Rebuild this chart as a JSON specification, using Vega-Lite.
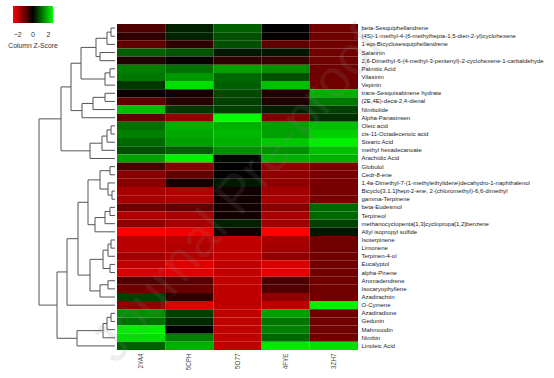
{
  "$schema": "https://vega.github.io/schema/vega-lite/v6.json",
  "width": 320,
  "height": 326,
  "autosize": "none",
  "padding": {"left": 38, "top": 24, "right": 196, "bottom": 28},
  "config": {"view": {"stroke": null}, "font": "Liberation Sans"},
  "resolve": {"scale": {"x": "independent", "y": "independent", "color": "independent"}, "axis": {"x": "independent", "y": "independent"}},
  "layer": [
    {
      "data": {"values": [
        {"compound": "beta-Sesquiphellandrene", "2YA4": -0.82, "5CPH": 0.33, "5O77": 0.98, "4FYE": 0.0, "3ZH7": -1.14},
        {"compound": "(4S)-1-methyl-4-(6-methylhepta-1,5-dien-2-yl)cyclohexene", "2YA4": -0.49, "5CPH": 0.37, "5O77": 0.82, "4FYE": -0.03, "3ZH7": -1.14},
        {"compound": "1-epi-Bicyclosesquiphellandrene", "2YA4": -0.98, "5CPH": -0.49, "5O77": 0.82, "4FYE": -0.98, "3ZH7": -1.14},
        {"compound": "Salannin", "2YA4": 0.98, "5CPH": 0.87, "5O77": 0.24, "4FYE": 0.24, "3ZH7": -1.14},
        {"compound": "2,6-Dimethyl-6-(4-methyl-3-pentenyl)-2-cyclohexene-1-carbaldehyde", "2YA4": -0.33, "5CPH": -0.08, "5O77": -0.49, "4FYE": -0.57, "3ZH7": -1.14},
        {"compound": "Palmitic Acid", "2YA4": 1.31, "5CPH": 1.14, "5O77": 1.63, "4FYE": 1.47, "3ZH7": -1.14},
        {"compound": "Vilasinin", "2YA4": 1.22, "5CPH": 1.55, "5O77": 1.06, "4FYE": 0.82, "3ZH7": -1.14},
        {"compound": "Vepinin", "2YA4": 0.57, "5CPH": 2.28, "5O77": 0.98, "4FYE": 1.96, "3ZH7": -1.14},
        {"compound": "trans-Sesquisabinene hydrate", "2YA4": -0.08, "5CPH": -0.16, "5O77": 0.73, "4FYE": -0.33, "3ZH7": 1.79},
        {"compound": "(2E,4E)-deca-2,4-dienal", "2YA4": -0.98, "5CPH": -0.41, "5O77": 0.65, "4FYE": -0.33, "3ZH7": 1.22},
        {"compound": "Nimbolide", "2YA4": 1.96, "5CPH": 0.57, "5O77": 0.65, "4FYE": 0.33, "3ZH7": 0.65},
        {"compound": "Alpha-Panasinsen", "2YA4": -0.98, "5CPH": -1.47, "5O77": 2.6, "4FYE": -1.31, "3ZH7": 0.49},
        {"compound": "Oleic acid", "2YA4": 1.14, "5CPH": 1.79, "5O77": 1.79, "4FYE": 1.63, "3ZH7": 1.96},
        {"compound": "cis-11-Octadecenoic acid", "2YA4": 1.31, "5CPH": 1.71, "5O77": 1.88, "4FYE": 1.63, "3ZH7": 2.12},
        {"compound": "Stearic Acid", "2YA4": 1.06, "5CPH": 1.63, "5O77": 1.79, "4FYE": 2.04, "3ZH7": 2.45},
        {"compound": "methyl hexadecanoate", "2YA4": 0.82, "5CPH": 0.98, "5O77": 1.47, "4FYE": 1.47, "3ZH7": 1.96},
        {"compound": "Arachidic Acid", "2YA4": 1.63, "5CPH": 2.45, "5O77": 0.08, "4FYE": 1.79, "3ZH7": 1.79},
        {"compound": "Globulol", "2YA4": -0.73, "5CPH": -1.39, "5O77": 0.0, "4FYE": -1.47, "3ZH7": -1.22},
        {"compound": "Cedr-8-ene", "2YA4": -1.39, "5CPH": -0.98, "5O77": 0.0, "4FYE": -1.47, "3ZH7": -1.22},
        {"compound": "1,4a-Dimethyl-7-(1-methylethylidene)decahydro-1-naphthalenol", "2YA4": -1.39, "5CPH": -0.24, "5O77": 0.24, "4FYE": -1.47, "3ZH7": -1.22},
        {"compound": "Bicyclo[3.1.1]hept-2-ene, 2-(chloromethyl)-6,6-dimethyl", "2YA4": -1.71, "5CPH": -1.79, "5O77": -0.16, "4FYE": -1.63, "3ZH7": -1.22},
        {"compound": "gamma-Terpinene", "2YA4": -1.71, "5CPH": -1.79, "5O77": -0.16, "4FYE": -1.71, "3ZH7": -1.22},
        {"compound": "beta-Eudesmol", "2YA4": -1.14, "5CPH": -0.98, "5O77": -0.16, "4FYE": -1.39, "3ZH7": 1.06},
        {"compound": "Terpineol", "2YA4": -1.79, "5CPH": -1.71, "5O77": -0.16, "4FYE": -1.71, "3ZH7": 1.06},
        {"compound": "methanocyclopenta[1,3]cyclopropa[1,2]benzene", "2YA4": -1.47, "5CPH": -1.71, "5O77": 0.33, "4FYE": -1.63, "3ZH7": 0.65},
        {"compound": "Allyl isopropyl sulfide", "2YA4": -2.6, "5CPH": -2.45, "5O77": -0.16, "4FYE": -2.6, "3ZH7": 0.24},
        {"compound": "Isoterpinene", "2YA4": -1.88, "5CPH": -1.88, "5O77": -1.96, "4FYE": -1.71, "3ZH7": -1.14},
        {"compound": "Limonene", "2YA4": -1.88, "5CPH": -1.79, "5O77": -1.96, "4FYE": -1.63, "3ZH7": -1.14},
        {"compound": "Terpinen-4-ol", "2YA4": -1.63, "5CPH": -1.79, "5O77": -1.96, "4FYE": -1.47, "3ZH7": -1.14},
        {"compound": "Eucalyptol", "2YA4": -1.96, "5CPH": -2.28, "5O77": -1.96, "4FYE": -2.2, "3ZH7": -1.14},
        {"compound": "alpha-Pinene", "2YA4": -2.2, "5CPH": -2.28, "5O77": -1.96, "4FYE": -2.37, "3ZH7": -1.14},
        {"compound": "Aromadendrene", "2YA4": -0.82, "5CPH": -0.9, "5O77": -1.96, "4FYE": -0.73, "3ZH7": -1.14},
        {"compound": "Isocaryophyllene", "2YA4": -1.14, "5CPH": -1.06, "5O77": -1.96, "4FYE": -0.82, "3ZH7": -1.14},
        {"compound": "Azadirachtin", "2YA4": 0.65, "5CPH": -0.49, "5O77": -1.96, "4FYE": -1.47, "3ZH7": -1.14},
        {"compound": "O-Cymene", "2YA4": -1.47, "5CPH": -2.28, "5O77": -1.96, "4FYE": -1.96, "3ZH7": 2.45},
        {"compound": "Azadiradione", "2YA4": 1.47, "5CPH": 0.65, "5O77": -1.96, "4FYE": 1.63, "3ZH7": -1.14},
        {"compound": "Gedunin", "2YA4": 1.14, "5CPH": 0.41, "5O77": -1.96, "4FYE": 1.22, "3ZH7": -1.14},
        {"compound": "Mahmoodin", "2YA4": 2.45, "5CPH": 0.0, "5O77": -1.96, "4FYE": 1.31, "3ZH7": -1.14},
        {"compound": "Nimbin", "2YA4": 2.28, "5CPH": 1.31, "5O77": -1.96, "4FYE": 1.06, "3ZH7": -1.14},
        {"compound": "Linoleic Acid", "2YA4": 0.98, "5CPH": 1.79, "5O77": -1.96, "4FYE": 2.37, "3ZH7": 2.28}
      ]},
      "transform": [{"fold": ["2YA4", "5CPH", "5O77", "4FYE", "3ZH7"], "as": ["target", "z"]}],
      "mark": {"type": "rect"},
      "encoding": {
        "x": {
          "field": "target", "type": "nominal",
          "sort": ["2YA4", "5CPH", "5O77", "4FYE", "3ZH7"],
          "scale": {"range": [79, 320], "paddingInner": 0, "paddingOuter": 0},
          "axis": {"orient": "bottom", "title": null, "labelAngle": -90, "labelAlign": "right", "labelBaseline": "middle", "ticks": false, "domain": false, "labelFontSize": 6.3, "labelColor": "#444444", "labelPadding": 3}
        },
        "y": {
          "field": "compound", "type": "nominal", "sort": null,
          "scale": {"paddingInner": 0, "paddingOuter": 0},
          "axis": {"orient": "right", "title": null, "ticks": false, "domain": false, "labelFontSize": 6, "labelColor": "#222222", "labelPadding": 3, "labelLimit": 300}
        },
        "color": {
          "field": "z", "type": "quantitative",
          "scale": {"domain": [-2.6, 0, 2.6], "range": ["#ff0000", "#000000", "#00ff00"], "interpolate": "rgb"},
          "legend": {"orient": "none", "legendX": -30, "legendY": -18, "direction": "horizontal", "gradientLength": 40, "gradientThickness": 17, "gradientStrokeWidth": 0, "title": "Column Z-Score", "titleOrient": "bottom", "titleAnchor": "middle", "titleFontSize": 6.8, "titleFontWeight": "normal", "titleColor": "#333333", "titlePadding": 5, "labelFontSize": 7, "labelColor": "#333333", "labelOffset": 8, "values": [-2, 0, 2], "padding": 0}
        }
      }
    },
    {
      "layer": [
        {
          "data": {"values": [
            {"node": "n1", "h": 4, "a": 1, "ha": 0, "b": 2, "hb": 0},
            {"node": "n2", "h": 8, "a": 1.5, "ha": 4, "b": 3, "hb": 0},
            {"node": "n3", "h": 15, "a": 4, "ha": 0, "b": 5, "hb": 0},
            {"node": "n4", "h": 19, "a": 2.25, "ha": 8, "b": 4.5, "hb": 15},
            {"node": "n5", "h": 5, "a": 6, "ha": 0, "b": 7, "hb": 0},
            {"node": "n6", "h": 10, "a": 6.5, "ha": 5, "b": 8, "hb": 0},
            {"node": "T1a", "h": 34, "a": 3.375, "ha": 19, "b": 7.25, "hb": 10},
            {"node": "n7", "h": 10, "a": 9, "ha": 0, "b": 10, "hb": 0},
            {"node": "n8", "h": 22, "a": 9.5, "ha": 10, "b": 11, "hb": 0},
            {"node": "n9", "h": 33, "a": 10.25, "ha": 22, "b": 12, "hb": 0},
            {"node": "T1", "h": 44, "a": 5.3125, "ha": 34, "b": 11.125, "hb": 33},
            {"node": "n10", "h": 4, "a": 13, "ha": 0, "b": 14, "hb": 0},
            {"node": "n11", "h": 8, "a": 13.5, "ha": 4, "b": 15, "hb": 0},
            {"node": "n12", "h": 13, "a": 14.25, "ha": 8, "b": 16, "hb": 0},
            {"node": "T2", "h": 25, "a": 15.125, "ha": 13, "b": 17, "hb": 0},
            {"node": "T", "h": 54, "a": 8.21875, "ha": 44, "b": 16.0625, "hb": 25},
            {"node": "n13", "h": 5, "a": 18, "ha": 0, "b": 19, "hb": 0},
            {"node": "n14", "h": 3, "a": 21, "ha": 0, "b": 22, "hb": 0},
            {"node": "n15", "h": 7, "a": 20, "ha": 0, "b": 21.5, "hb": 3},
            {"node": "n16", "h": 15, "a": 18.5, "ha": 5, "b": 20.75, "hb": 7},
            {"node": "n17a", "h": 5, "a": 23, "ha": 0, "b": 24, "hb": 0},
            {"node": "n17", "h": 10, "a": 23.5, "ha": 5, "b": 25, "hb": 0},
            {"node": "n19", "h": 20, "a": 24.25, "ha": 10, "b": 26, "hb": 0},
            {"node": "B1a1", "h": 27, "a": 19.625, "ha": 15, "b": 25.125, "hb": 20},
            {"node": "n20", "h": 4, "a": 27, "ha": 0, "b": 28, "hb": 0},
            {"node": "n21", "h": 7, "a": 27.5, "ha": 4, "b": 29, "hb": 0},
            {"node": "n22", "h": 5, "a": 30, "ha": 0, "b": 31, "hb": 0},
            {"node": "n23", "h": 12, "a": 28.25, "ha": 7, "b": 30.5, "hb": 5},
            {"node": "n24", "h": 7, "a": 32, "ha": 0, "b": 33, "hb": 0},
            {"node": "n25", "h": 15, "a": 32.5, "ha": 7, "b": 34, "hb": 0},
            {"node": "B1a2", "h": 25, "a": 29.375, "ha": 12, "b": 33.25, "hb": 15},
            {"node": "B1a", "h": 37, "a": 22.375, "ha": 27, "b": 31.3125, "hb": 25},
            {"node": "B1", "h": 48, "a": 26.84375, "ha": 37, "b": 35, "hb": 0},
            {"node": "n26", "h": 4, "a": 36, "ha": 0, "b": 37, "hb": 0},
            {"node": "n27", "h": 8, "a": 36.5, "ha": 4, "b": 38, "hb": 0},
            {"node": "n28", "h": 12, "a": 37.25, "ha": 8, "b": 39, "hb": 0},
            {"node": "B2", "h": 38, "a": 38.125, "ha": 12, "b": 40, "hb": 0},
            {"node": "B", "h": 58, "a": 30.921875, "ha": 48, "b": 39.0625, "hb": 38},
            {"node": "root", "h": 76, "a": 12.140625, "ha": 54, "b": 34.9921875, "hb": 58}
          ]},
          "layer": [
            {
              "mark": {"type": "rule", "color": "#555555", "strokeWidth": 1},
              "encoding": {
                "x": {"field": "h", "type": "quantitative", "scale": {"domain": [0, 77], "range": [77, 0], "nice": false, "zero": false}, "axis": null},
                "y": {"field": "a", "type": "quantitative", "scale": {"domain": [0.5, 40.5], "reverse": true, "nice": false, "zero": false}, "axis": null},
                "y2": {"field": "b"}
              }
            },
            {
              "mark": {"type": "rule", "color": "#555555", "strokeWidth": 1},
              "encoding": {
                "x": {"field": "ha", "type": "quantitative"},
                "x2": {"field": "h"},
                "y": {"field": "a", "type": "quantitative"}
              }
            },
            {
              "mark": {"type": "rule", "color": "#555555", "strokeWidth": 1},
              "encoding": {
                "x": {"field": "hb", "type": "quantitative"},
                "x2": {"field": "h"},
                "y": {"field": "b", "type": "quantitative"}
              }
            }
          ]
        },
        {
          "data": {"values": [{"label": "Journal Pre-proof"}]},
          "mark": {"type": "text", "angle": -50, "fontSize": 54, "color": "#888888", "opacity": 0.14, "align": "center", "baseline": "middle"},
          "encoding": {
            "x": {"datum": -123, "type": "quantitative"},
            "y": {"datum": 21.5, "type": "quantitative"},
            "text": {"field": "label"}
          }
        }
      ]
    }
  ]
}
